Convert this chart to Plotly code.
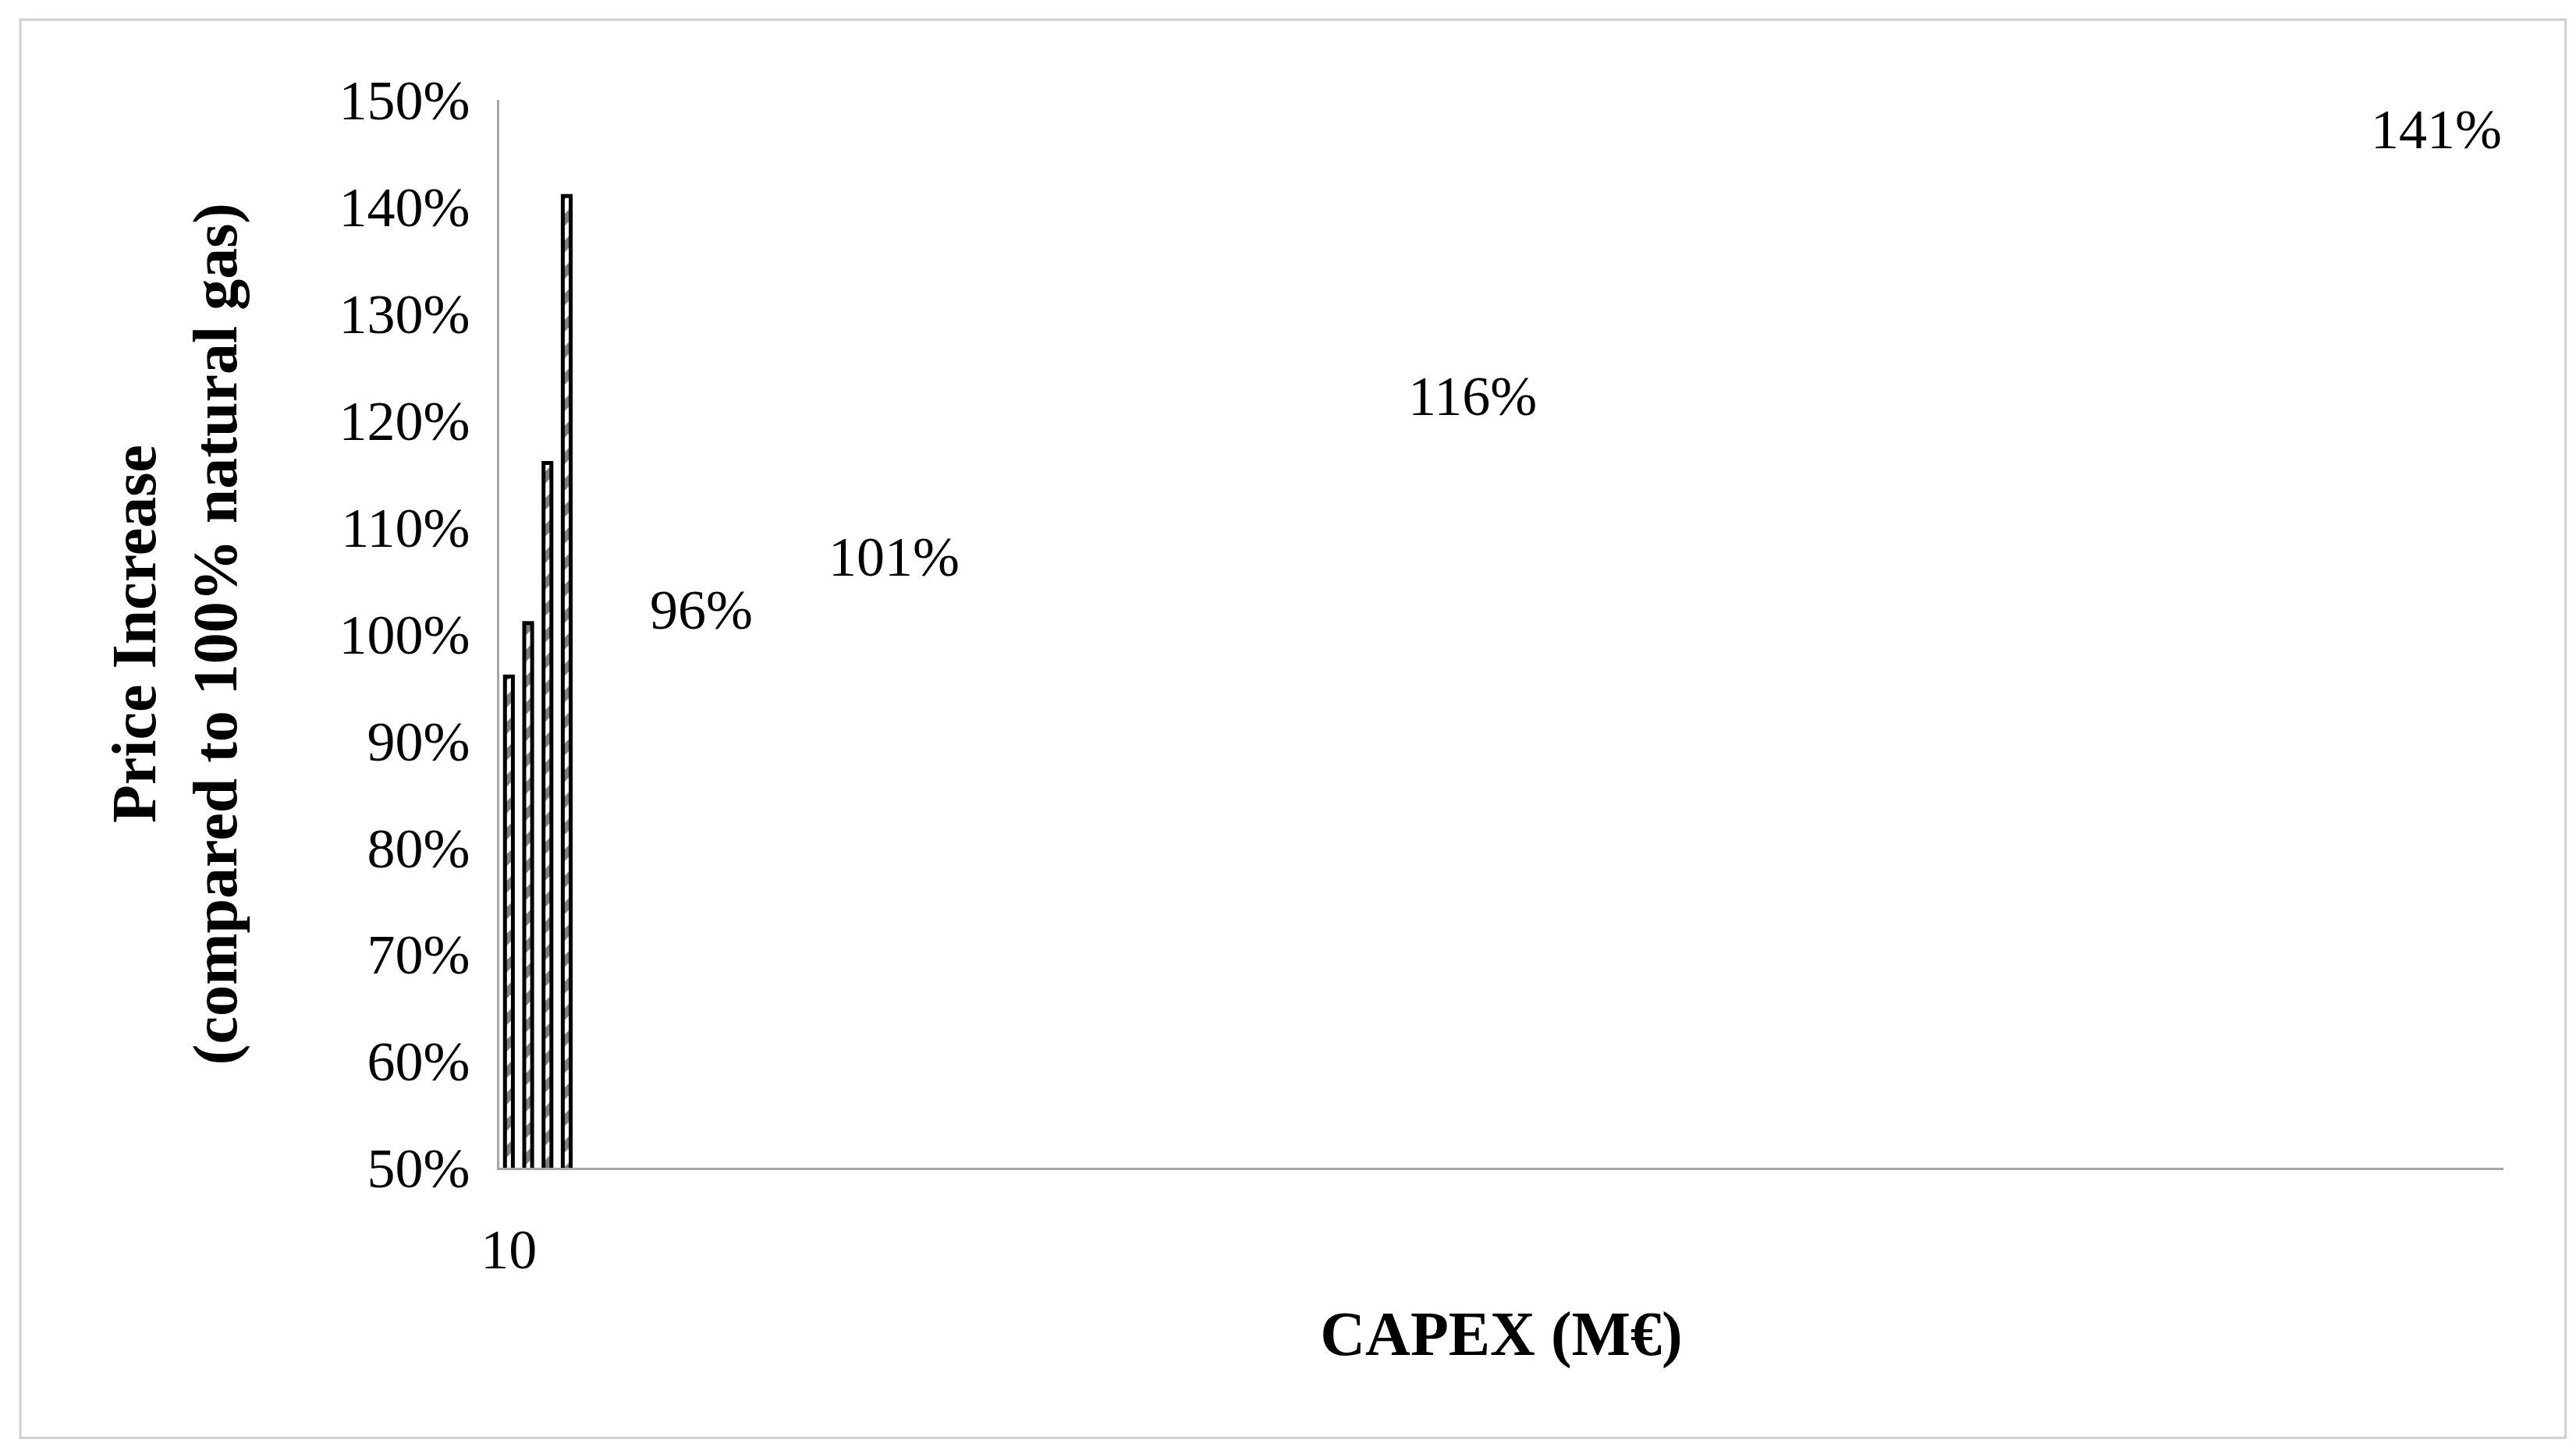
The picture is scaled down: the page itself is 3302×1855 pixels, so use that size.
import plotly.graph_objects as go

# data
capex = ['10', '20', '50', '100']
price_increase = [0.96, 1.01, 1.16, 1.41]
labels = ['96%', '101%', '116%', '141%']

font_family = 'Liberation Serif, DejaVu Serif, serif'

fig = go.Figure()
fig.add_trace(go.Bar(
    x=capex, y=price_increase, width=0.41,
    marker=dict(color='white', line=dict(color='black', width=5),
                pattern=dict(shape='/', fgcolor='black', bgcolor='white',
                             size=24, solidity=0.45)),
    hoverinfo='skip'))

for c, v, t in zip(capex, price_increase, labels):
    fig.add_annotation(x=c, y=v, text=t, showarrow=False, yshift=85,
                       font=dict(size=72, color='black', family=font_family))

fig.update_layout(
    width=3302, height=1855, showlegend=False,
    plot_bgcolor='white', paper_bgcolor='white',
    margin=dict(l=632, r=101, t=120, b=366),
    font=dict(family=font_family, size=72, color='black'))
fig.update_xaxes(type='category', showline=True, linecolor='#a6a6a6', linewidth=3,
                 ticks='', tickfont=dict(size=72), ticklabelstandoff=40,
                 title=dict(text='<b>CAPEX (M€)</b>', font=dict(size=80), standoff=40))
fig.update_yaxes(range=[0.5, 1.5], dtick=0.1, tickformat='.0%', showgrid=False,
                 showline=True, linecolor='#a6a6a6', linewidth=3, ticks='',
                 zeroline=False, tickfont=dict(size=72), ticklabelstandoff=20)

# y-axis title as two bold lines
fig.add_annotation(x=-0.2, y=0.5, xref='paper', yref='paper', textangle=-90,
                   text='<b>Price Increase<br>(compared to 100% natural gas)</b>',
                   showarrow=False, font=dict(size=80, color='black', family=font_family))

# outer frame
fig.add_shape(type='rect', xref='paper', yref='paper', x0=-0.239, x1=1.031,
              y0=-0.253, y1=1.075, line=dict(color='#d0d0d0', width=3))

fig.write_html('out.html')
